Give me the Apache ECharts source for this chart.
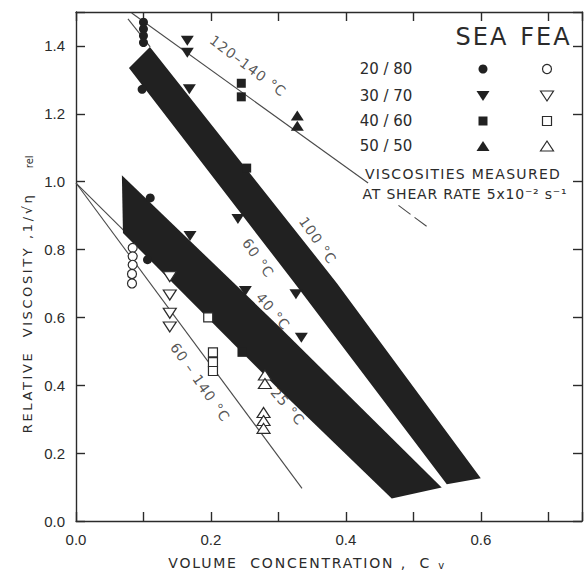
<!DOCTYPE html>
<html>
<head>
<meta charset="utf-8">
<script src="https://cdn.jsdelivr.net/npm/echarts@6/dist/echarts.min.js"></script>
<style>
  html, body { margin: 0; padding: 0; background: #ffffff; }
  #chart { width: 584px; height: 576px; }
</style>
</head>
<body>
<div id="chart"></div>
<script>
// ---- tick labels ----
const xTickLabels = ['0.0', '0.2', '0.4', '0.6'];
const yTickLabels = ['0.0', '0.2', '0.4', '0.6', '0.8', '1.0', '1.2', '1.4'];

// ---- shaded SEA bands: outline vertices [Cv, 1/sqrt(eta_rel)] ----
const band100and60 = [[0.0785, 1.335], [0.1096, 1.397], [0.3867, 0.701], [0.600, 0.126], [0.5496, 0.108], [0.3244, 0.700]];
const band40and25 = [[0.068, 1.019], [0.302, 0.571], [0.542, 0.099], [0.468, 0.066], [0.302, 0.385], [0.0696, 0.849]];

// ---- straight correlation lines ----
const line120to140 = [[0.0825, 1.497], [0.433, 0.996]];
const line120to140Ext = [[0.478, 0.930], [0.522, 0.865]];
const line60to140 = [[0, 0.996], [0.335, 0.096]];
const lineLowerBandEdge = [[0, 0.996], [0.15, 0.700]];
const lineUpperBandEdge = [[0.077, 1.480], [0.110, 1.397]];

// ---- SEA measurements (filled symbols) ----
const sea2080 = [[0.100, 1.470], [0.100, 1.450], [0.100, 1.430], [0.100, 1.410], [0.098, 1.272], [0.110, 0.952], [0.106, 0.770]];
const sea3070 = [[0.165, 1.415], [0.165, 1.380], [0.168, 1.272], [0.240, 0.890], [0.326, 0.668], [0.169, 0.840], [0.251, 0.678], [0.334, 0.540]];
const sea4060 = [[0.245, 1.290], [0.245, 1.250], [0.253, 1.040], [0.246, 0.497]];
const sea5050 = [[0.328, 1.195], [0.328, 1.165]];

// ---- FEA predictions (open symbols) ----
const fea2080 = [[0.084, 0.805], [0.084, 0.780], [0.084, 0.755], [0.083, 0.728], [0.083, 0.700]];
const fea3070 = [[0.139, 0.720], [0.139, 0.666], [0.139, 0.612], [0.139, 0.572]];
const fea4060 = [[0.196, 0.600], [0.203, 0.497], [0.203, 0.468], [0.203, 0.442]];
const fea5050 = [[0.280, 0.430], [0.280, 0.405], [0.278, 0.320], [0.278, 0.296], [0.278, 0.273]];

// ---- key ----
const keyRows = ['20 / 80', '30 / 70', '40 / 60', '50 / 50'];
const keyShapes = ['circle', 'down', 'square', 'up'];

// ---- styling / layout ----
const ink = '#2b2b2b';
const bandInk = '#212121';
const lineInk = '#4a4a4a';
const font = '"DejaVu Sans", sans-serif';
const tickFont = '"Liberation Sans", sans-serif';
const NB = '\u00a0';

// annotations written along the curves (anchor in data units, angle in degrees)
const curveNotes = [
  { text: '120–140 °C', at: [0.255, 1.341], angle: -37 },
  { text: '100 °C', at: [0.3585, 0.827], angle: -55 },
  { text: '60 °C', at: [0.270, 0.775], angle: -55 },
  { text: '40 °C', at: [0.292, 0.618], angle: -50 },
  { text: '25 °C', at: [0.314, 0.338], angle: -50 },
  { text: '60 – 140 °C', at: [0.184, 0.409], angle: -55 }
];

// axis titles (non-breaking spaces keep the wide word gaps)
const xNameMain = 'VOLUME' + NB + NB + 'CONCENTRATION' + NB + ',' + NB + NB + 'C';
const yNameMain = 'RELATIVE' + NB + NB + 'VISCOSITY' + NB + ',1/√η';
const xTrack = 1.8;
const yTrack = 2.6;

// extra tracking for the stencil-style lettering (SVG letter-spacing)
const tracking = {};
tracking[xNameMain] = xTrack;
tracking[yNameMain] = yTrack;
tracking['SEA'] = 2;
tracking['FEA'] = 2;
tracking['VISCOSITIES MEASURED'] = 1.3;
tracking['AT SHEAR RATE 5x10⁻² s⁻¹'] = 0.8;
curveNotes.forEach(function (n) { tracking[n.text] = 1; });

function labelFrom(list, step) {
  return function (v) {
    const i = Math.round(v / step);
    if (Math.abs(v - i * step) > 1e-6 || i >= list.length) return '';
    return list[i];
  };
}

function bandSeries(points) {
  return {
    type: 'custom',
    coordinateSystem: 'cartesian2d',
    clip: true,
    silent: true,
    z: 3,
    data: [points[0]],
    renderItem: function (params, api) {
      return {
        type: 'polygon',
        shape: { points: points.map(function (p) { return api.coord(p); }) },
        style: { fill: bandInk }
      };
    }
  };
}

function lineSeries(points, dashed) {
  return {
    type: 'line',
    data: points,
    symbol: 'none',
    showSymbol: false,
    silent: true,
    z: 2,
    lineStyle: { color: lineInk, width: 1.1, type: dashed ? [15, 5] : 'solid' }
  };
}

function markSeries(points, symbol, open, size, rotate) {
  return {
    type: 'scatter',
    data: points,
    symbol: symbol,
    symbolSize: size,
    symbolRotate: rotate || 0,
    silent: true,
    z: open ? 5 : 4,
    itemStyle: open
      ? { color: '#ffffff', borderColor: ink, borderWidth: 1.2, opacity: 1 }
      : { color: bandInk, borderWidth: 0, opacity: 1 }
  };
}

function noteSeries(notes) {
  return {
    type: 'scatter',
    symbolSize: 1,
    silent: true,
    z: 6,
    itemStyle: { color: 'rgba(0,0,0,0)' },
    label: { show: true, position: 'inside', color: ink, fontFamily: font, fontSize: 14 },
    data: notes.map(function (n) {
      return { value: n.at, label: { show: true, formatter: n.text, rotate: n.angle } };
    })
  };
}

function keySymbol(kind, open, cx, cy) {
  const style = open ? { fill: '#ffffff', stroke: ink, lineWidth: 1.2 } : { fill: bandInk };
  if (kind === 'circle') return { type: 'circle', x: cx, y: cy, shape: { cx: 0, cy: 0, r: 4.5 }, style: style };
  if (kind === 'square') return { type: 'rect', x: cx, y: cy, shape: { x: -4.5, y: -4.5, width: 9, height: 9 }, style: style };
  if (kind === 'up') return { type: 'polygon', x: cx, y: cy, shape: { points: [[0, -5], [6.5, 5], [-6.5, 5]] }, style: style };
  return { type: 'polygon', x: cx, y: cy, shape: { points: [[-6.5, -5], [6.5, -5], [0, 5]] }, style: style };
}

function keyText(text, x, y, size) {
  return {
    type: 'text', x: x, y: y,
    style: { text: text, fontFamily: font, fontSize: size, fill: ink, align: 'center', verticalAlign: 'middle' }
  };
}

const keyRowY = [69, 96, 121, 146];
const keyGraphics = [keyText('SEA', 482, 37, 24), keyText('FEA', 546, 37, 24)];
keyRows.forEach(function (row, i) {
  keyGraphics.push(keyText(row, 386, keyRowY[i], 15));
  keyGraphics.push(keySymbol(keyShapes[i], false, 483, keyRowY[i]));
  keyGraphics.push(keySymbol(keyShapes[i], true, 547, keyRowY[i]));
});
keyGraphics.push(keyText('VISCOSITIES MEASURED', 463, 174, 14));
keyGraphics.push(keyText('AT SHEAR RATE 5x10⁻² s⁻¹', 465, 194, 14));

const axisLine = { color: ink, width: 1.4 };

const dom = document.getElementById('chart');
const chart = echarts.init(dom, null, { renderer: 'svg', width: 584, height: 576 });

chart.setOption({
  animation: false,
  backgroundColor: '#ffffff',
  grid: { left: 76, right: 2, top: 12, bottom: 55, containLabel: false, outerBoundsMode: 'none' },
  xAxis: [
    {
      type: 'value', min: 0, max: 0.75, interval: 0.1, position: 'bottom',
      axisLine: { show: true, onZero: false, lineStyle: axisLine },
      axisTick: { show: true, inside: true, length: 9, lineStyle: axisLine },
      splitLine: { show: false },
      axisLabel: { margin: 11, color: ink, fontFamily: tickFont, fontSize: 15, formatter: labelFrom(xTickLabels, 0.2) },
      name: '{m|' + xNameMain + '}{s|v}',
      nameLocation: 'middle', nameGap: 35, nameMoveOverlap: false,
      nameTextStyle: {
        padding: [0, 22, 0, 0],
        rich: {
          m: { fontFamily: font, fontSize: 14, color: ink },
          s: { fontFamily: font, fontSize: 10, color: ink, verticalAlign: 'bottom', padding: [0, 0, 0, xTrack * xNameMain.length - 16] }
        }
      }
    },
    {
      type: 'value', min: 0, max: 0.75, interval: 0.1, position: 'top',
      axisLine: { show: true, onZero: false, lineStyle: axisLine },
      axisTick: { show: true, inside: true, length: 9, lineStyle: axisLine },
      splitLine: { show: false },
      axisLabel: { show: false }
    }
  ],
  yAxis: [
    {
      type: 'value', min: 0, max: 1.5, interval: 0.2, position: 'left',
      axisLine: { show: true, onZero: false, lineStyle: axisLine },
      axisTick: { show: true, inside: true, length: 9, lineStyle: axisLine },
      splitLine: { show: false },
      axisLabel: { margin: 11, color: ink, fontFamily: tickFont, fontSize: 15, formatter: labelFrom(yTickLabels, 0.2) },
      name: '{m|' + yNameMain + '}{s|rel}',
      nameLocation: 'middle', nameGap: 42, nameRotate: 90, nameMoveOverlap: false,
      nameTextStyle: {
        padding: [0, 23, 0, 0],
        rich: {
          m: { fontFamily: font, fontSize: 13, color: ink },
          s: { fontFamily: font, fontSize: 10, color: ink, verticalAlign: 'bottom', padding: [0, 0, 0, yTrack * yNameMain.length - 8] }
        }
      }
    },
    {
      type: 'value', min: 0, max: 1.5, interval: 0.2, position: 'right',
      axisLine: { show: true, onZero: false, lineStyle: axisLine },
      axisTick: { show: true, inside: true, length: 9, lineStyle: axisLine },
      splitLine: { show: false },
      axisLabel: { show: false }
    }
  ],
  graphic: keyGraphics,
  series: [
    lineSeries(line120to140, false),
    lineSeries(line120to140Ext, true),
    lineSeries(line60to140, false),
    lineSeries(lineLowerBandEdge, false),
    lineSeries(lineUpperBandEdge, false),
    bandSeries(band100and60),
    bandSeries(band40and25),
    markSeries(sea2080, 'circle', false, 9),
    markSeries(sea3070, 'triangle', false, [13, 10], 180),
    markSeries(sea4060, 'rect', false, 9),
    markSeries(sea5050, 'triangle', false, [13, 10]),
    markSeries(fea2080, 'circle', true, 9),
    markSeries(fea3070, 'triangle', true, [13, 10], 180),
    markSeries(fea4060, 'rect', true, 9),
    markSeries(fea5050, 'triangle', true, [13, 10]),
    noteSeries(curveNotes)
  ]
});

function applyTracking() {
  dom.querySelectorAll('text').forEach(function (t) {
    const s = tracking[t.textContent];
    if (s !== undefined) t.setAttribute('letter-spacing', s + 'px');
  });
}
chart.on('finished', applyTracking);
applyTracking();
</script>
</body>
</html>
